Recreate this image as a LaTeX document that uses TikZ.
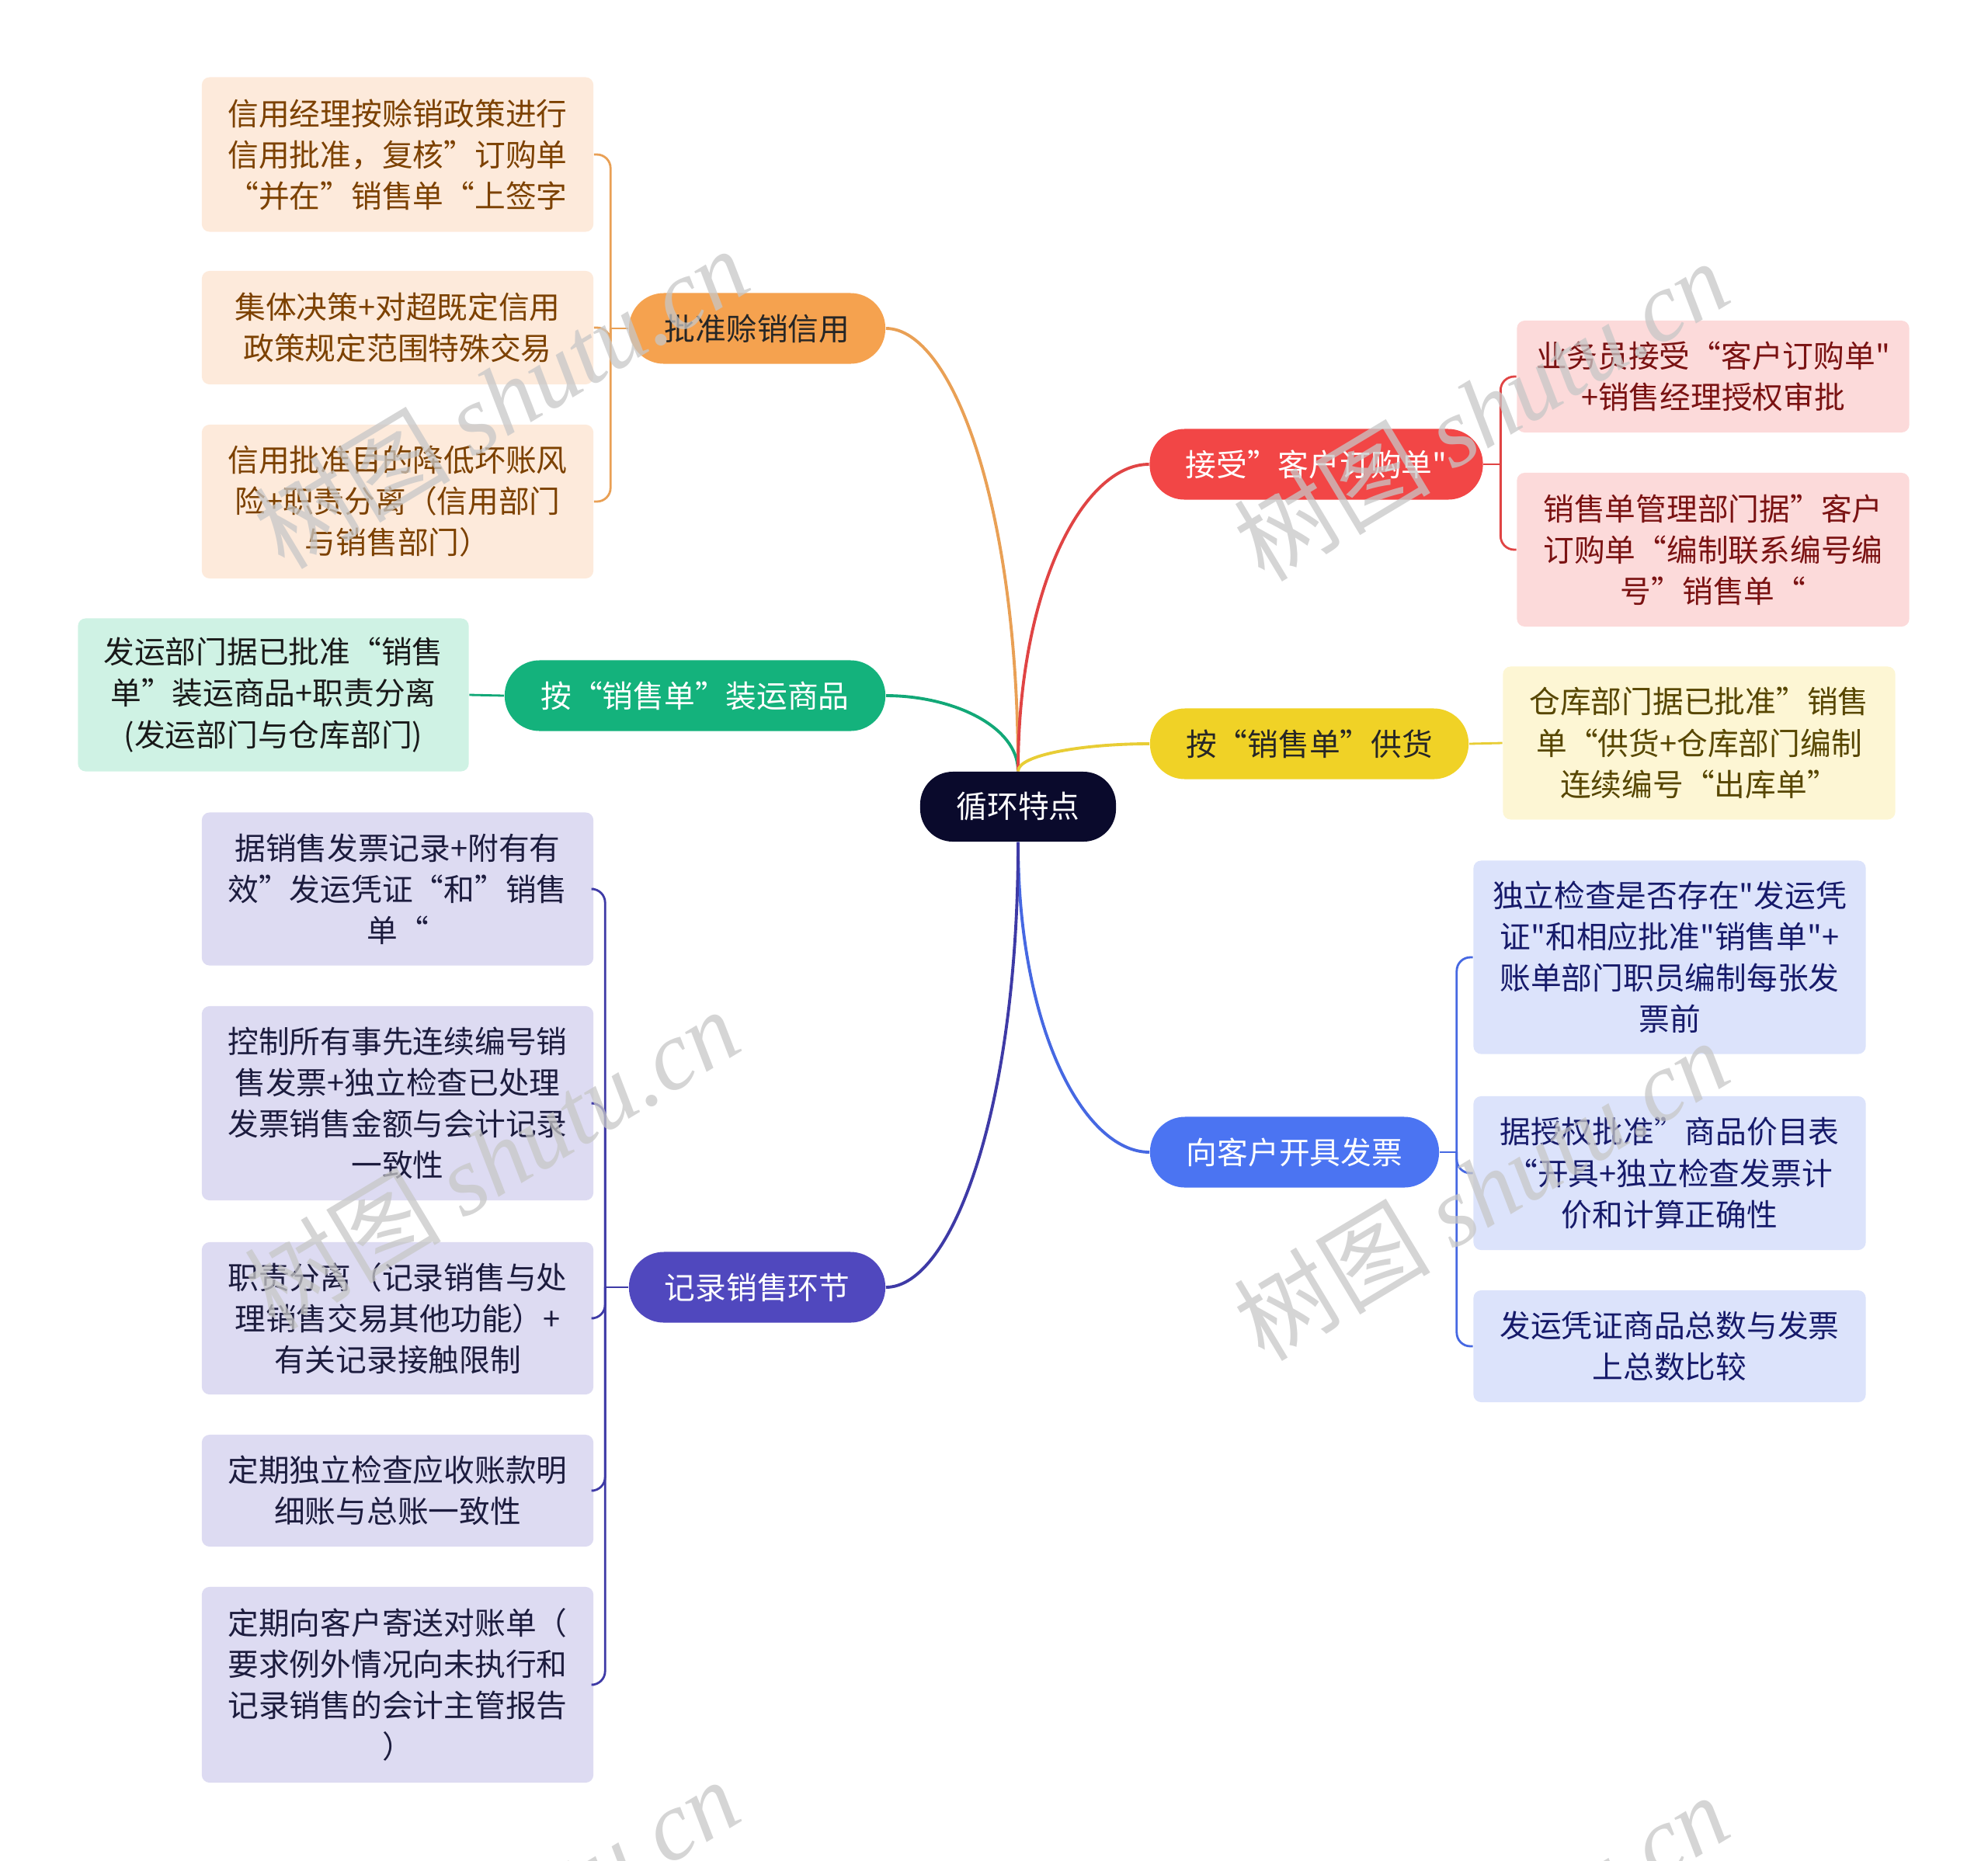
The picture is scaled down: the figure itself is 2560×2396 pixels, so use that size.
\documentclass[tikz,border=0pt]{standalone}
\usepackage{fontspec}
\setmainfont{Noto Sans CJK SC}[Ligatures=TeXOff]
\newfontfamily\wmserif{Liberation Serif}[Ligatures=TeXOff]
\usetikzlibrary{calc}
\definecolor{rootc}{HTML}{0A0A2C}
\definecolor{orP}{HTML}{F5A24F}
\definecolor{orL}{HTML}{FDEADB}
\definecolor{orT}{HTML}{7C4100}
\definecolor{orC}{HTML}{E9A055}
\definecolor{grP}{HTML}{14B27C}
\definecolor{grL}{HTML}{CFF2E4}
\definecolor{grC}{HTML}{12A877}
\definecolor{puP}{HTML}{5048BE}
\definecolor{puL}{HTML}{DDDBF2}
\definecolor{puT}{HTML}{1C1C3E}
\definecolor{puC}{HTML}{3E3AA6}
\definecolor{reP}{HTML}{F24646}
\definecolor{reL}{HTML}{FCDADA}
\definecolor{reT}{HTML}{7A1212}
\definecolor{reC}{HTML}{E04444}
\definecolor{yeP}{HTML}{F0D226}
\definecolor{yeL}{HTML}{FDF6D4}
\definecolor{yeT}{HTML}{574600}
\definecolor{yeC}{HTML}{E8CD35}
\definecolor{blP}{HTML}{4B74F2}
\definecolor{blL}{HTML}{DCE3FB}
\definecolor{blT}{HTML}{161A6A}
\definecolor{blC}{HTML}{4668E2}
\begin{document}
\begin{tikzpicture}[x=0.01cm,y=-0.01cm,
  txt/.style={font=\fontsize{11.3pt}{15.1pt}\selectfont, align=center, inner sep=0pt},
  rootbox/.style={txt, fill=rootc, text=white, rounded corners=0.42cm, minimum width=2.52cm, minimum height=0.9cm},
  pill/.style={txt, rounded corners=0.45cm, minimum height=0.91cm},
  leaf/.style={txt, rounded corners=0.1cm, minimum width=5.04cm},
  maincon/.style={line width=1.1pt},
  brcon/.style={line width=0.8pt, rounded corners=5pt},
  wm/.style={rotate=31, text=black!22, text opacity=0.75, inner sep=0pt}
]
\useasboundingbox (0,0) rectangle (2560,2396);

% root
\node[rootbox] (root) at (1311,1039) {循环特点};

% branch pills
\node[pill, fill=orP, text=black!85, minimum width=3.30cm] (p1) at (975,423) {批准赊销信用};
\node[pill, fill=grP, text=white, minimum width=4.90cm] (p2) at (895,896) {按“销售单”装运商品};
\node[pill, fill=puP, text=white, minimum width=3.30cm] (p3) at (975,1658) {记录销售环节};
\node[pill, fill=reP, text=white, minimum width=4.29cm] (p4) at (1695,598) {接受”客户订购单"};
\node[pill, fill=yeP, text=black!85, minimum width=4.10cm] (p5) at (1686,958) {按“销售单”供货};
\node[pill, fill=blP, text=white, minimum width=3.72cm] (p6) at (1667,1484) {向客户开具发票};

% leaves - orange
\node[leaf, fill=orL, text=orT, minimum height=1.99cm] (o1) at (512,199) {信用经理按赊销政策进行\\信用批准，复核”订购单\\“并在”销售单“上签字};
\node[leaf, fill=orL, text=orT, minimum height=1.46cm] (o2) at (512,422) {集体决策+对超既定信用\\政策规定范围特殊交易};
\node[leaf, fill=orL, text=orT, minimum height=1.98cm] (o3) at (512,646) {信用批准目的降低坏账风\\险+职责分离（信用部门\\与销售部门）};
% green
\node[leaf, fill=grL, text=black!90, minimum width=5.03cm, minimum height=1.97cm] (g1) at (352,895) {发运部门据已批准“销售\\单”装运商品+职责分离\\(发运部门与仓库部门)};
% purple
\node[leaf, fill=puL, text=puT, minimum height=1.97cm] (u1) at (512,1145) {据销售发票记录+附有有\\效”发运凭证“和”销售\\单“};
\node[leaf, fill=puL, text=puT, minimum height=2.50cm] (u2) at (512,1421) {控制所有事先连续编号销\\售发票+独立检查已处理\\发票销售金额与会计记录\\一致性};
\node[leaf, fill=puL, text=puT, minimum height=1.96cm] (u3) at (512,1698) {职责分离（记录销售与处\\理销售交易其他功能）+\\有关记录接触限制};
\node[leaf, fill=puL, text=puT, minimum height=1.44cm] (u4) at (512,1920) {定期独立检查应收账款明\\细账与总账一致性};
\node[leaf, fill=puL, text=puT, minimum height=2.52cm] (u5) at (512,2170) {定期向客户寄送对账单（\\要求例外情况向未执行和\\记录销售的会计主管报告\\）};
% red
\node[leaf, fill=reL, text=reT, minimum width=5.05cm, minimum height=1.44cm] (r1) at (2206,485) {业务员接受“客户订购单"\\+销售经理授权审批};
\node[leaf, fill=reL, text=reT, minimum width=5.05cm, minimum height=1.98cm] (r2) at (2206,708) {销售单管理部门据”客户\\订购单“编制联系编号编\\号”销售单“};
% yellow
\node[leaf, fill=yeL, text=yeT, minimum width=5.05cm, minimum height=1.97cm] (y1) at (2188,957) {仓库部门据已批准”销售\\单“供货+仓库部门编制\\连续编号“出库单”};
% blue
\node[leaf, fill=blL, text=blT, minimum width=5.05cm, minimum height=2.49cm] (b1) at (2150,1233) {独立检查是否存在"发运凭\\证"和相应批准"销售单"+\\账单部门职员编制每张发\\票前};
\node[leaf, fill=blL, text=blT, minimum width=5.05cm, minimum height=1.98cm] (b2) at (2150,1511) {据授权批准”商品价目表\\“开具+独立检查发票计\\价和计算正确性};
\node[leaf, fill=blL, text=blT, minimum width=5.05cm, minimum height=1.44cm] (b3) at (2150,1734) {发运凭证商品总数与发票\\上总数比较};

% main connectors root <-> pills
\draw[maincon, orC] (p1.east) .. controls ($(p1.east)!0.5!(p1.east -| root.north)$) and ($(root.north)!0.6!(root.north |- p1.east)$) .. (root.north);
\draw[maincon, grC] (p2.east) .. controls ($(p2.east)!0.5!(p2.east -| root.north)$) and ($(root.north)!0.6!(root.north |- p2.east)$) .. (root.north);
\draw[maincon, reC] (p4.west) .. controls ($(p4.west)!0.5!(p4.west -| root.north)$) and ($(root.north)!0.6!(root.north |- p4.west)$) .. (root.north);
\draw[maincon, yeC] (p5.west) .. controls ($(p5.west)!0.5!(p5.west -| root.north)$) and ($(root.north)!0.6!(root.north |- p5.west)$) .. (root.north);
\draw[maincon, blC] (p6.west) .. controls ($(p6.west)!0.5!(p6.west -| root.south)$) and ($(root.south)!0.6!(root.south |- p6.west)$) .. (root.south);
\draw[maincon, puC] (p3.east) .. controls ($(p3.east)!0.5!(p3.east -| root.south)$) and ($(root.south)!0.6!(root.south |- p3.east)$) .. (root.south);

% orange bracket
\coordinate (jo) at ($(p1.west)+(-23,0)$);
\draw[brcon, orC] (p1.west) -- (jo);
\foreach \n in {o1,o2,o3} \draw[brcon, orC] (jo) |- (\n.east);
% green
\draw[brcon, grC] (p2.west) -- (g1.east);
% purple bracket
\coordinate (ju) at ($(p3.west)+(-30,0)$);
\draw[brcon, puC] (p3.west) -- (ju);
\foreach \n in {u1,u2,u3,u4,u5} \draw[brcon, puC] (ju) |- (\n.east);
% red bracket
\coordinate (jr) at ($(p4.east)+(22,0)$);
\draw[brcon, reC] (p4.east) -- (jr);
\foreach \n in {r1,r2} \draw[brcon, reC] (jr) |- (\n.west);
% yellow
\draw[brcon, yeC] (p5.east) -- (y1.west);
% blue bracket
\coordinate (jb) at ($(p6.east)+(22,0)$);
\draw[brcon, blC] (p6.east) -- (jb);
\foreach \n in {b1,b2,b3} \draw[brcon, blC] (jb) |- (\n.west);

% watermarks
\begin{scope}
\clip (0,0) rectangle (2560,2396);
\foreach \px/\py [count=\i] in {645/512, 1907/528, 633/1492, 1907/1532, 633/2484, 1907/2504}
  \node[wm] (wm\i) at (\px,\py) {\fontsize{36pt}{36pt}\selectfont 树图 {\wmserif\itshape shutu.cn}};
\end{scope}
\end{tikzpicture}
\end{document}
